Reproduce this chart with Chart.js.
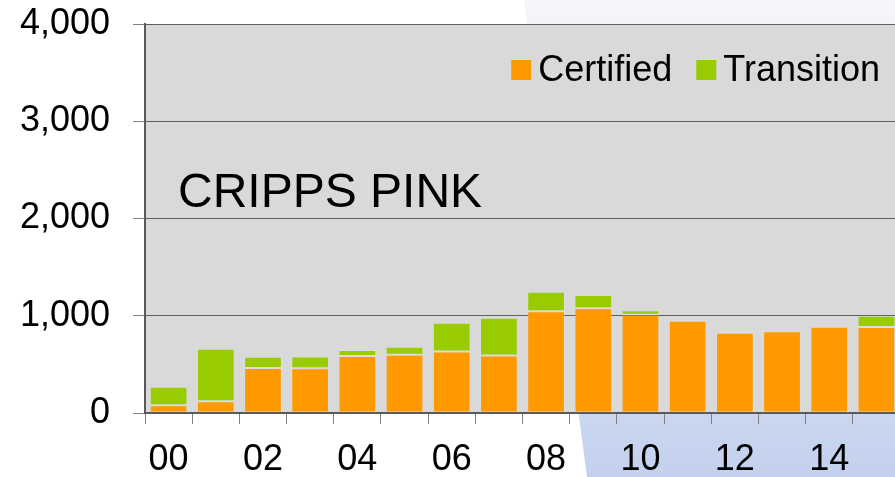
<!DOCTYPE html>
<html>
<head>
<meta charset="utf-8">
<script src="https://cdn.jsdelivr.net/npm/chart.js@4.4.0/dist/chart.umd.min.js"></script>
<style>
  html, body { margin: 0; padding: 0; width: 895px; height: 477px; overflow: hidden; background: #fff; }
  #bg {
    position: absolute; left: 0; top: 0; width: 895px; height: 477px;
    background: linear-gradient(to bottom, #f5f6fb 0%, #e3e9f6 45%, #c3d1ee 100%);
    clip-path: polygon(524px 0, 895px 0, 895px 477px, 587px 477px);
  }
  #wrap { position: absolute; left: 0; top: 0; width: 910px; height: 477px; }
</style>
</head>
<body>
<div id="bg"></div>
<div id="wrap"><canvas id="myChart"></canvas></div>
<script>
// data (hectares per year)
const years = ['00', '01', '02', '03', '04', '05', '06', '07', '08', '09', '10', '11', '12', '13', '14', '15'];
const certified = [80, 120, 463, 459, 586, 600, 633, 592, 1045, 1076, 1011, 949, 826, 840, 887, 884];
const transition = [190, 540, 116, 123, 62, 82, 296, 388, 202, 137, 45, 7, 10, 0, 11, 116];
const yTicks = [0, 1000, 2000, 3000, 4000];
const varietyName = 'CRIPPS PINK';

const FONT = "'Liberation Sans', Arial, sans-serif";

// grey plot area, label and legend drawn inside it
const plotDecor = {
    id: 'plotDecor',
    beforeDraw(chart) {
        const { ctx, chartArea: a } = chart;
        ctx.save();
        ctx.fillStyle = '#d9d9d9';
        ctx.fillRect(a.left, a.top, a.right - a.left, a.bottom - a.top);
        ctx.restore();
    },
    afterDraw(chart) {
        const { ctx, chartArea: a } = chart;
        ctx.save();
        ctx.fillStyle = '#000';
        ctx.textBaseline = 'alphabetic';
        ctx.font = '48px ' + FONT;
        ctx.fillText(varietyName, a.left + 33, a.top + 183);

        // legend, right aligned
        ctx.font = '36px ' + FONT;
        const items = chart.data.datasets.map(d => ({ label: d.label, color: d.backgroundColor }));
        const box = 20, gap = 7, itemGap = 24;
        let total = 0;
        items.forEach((it, i) => {
            it.w = box + gap + ctx.measureText(it.label).width;
            total += it.w + (i ? itemGap : 0);
        });
        let x = a.right - 20 - total;
        const cy = a.top + 46;
        items.forEach(it => {
            ctx.fillStyle = it.color;
            ctx.fillRect(x, cy - box / 2, box, box);
            ctx.fillStyle = '#000';
            ctx.textBaseline = 'middle';
            ctx.fillText(it.label, x + box + gap, cy + 1);
            x += it.w + itemGap;
        });
        ctx.restore();
    }
};

new Chart(document.querySelector('#myChart'), {
    type: 'bar',
    data: {
        labels: years,
        datasets: [
            {
                label: 'Certified',
                data: certified,
                backgroundColor: '#ff9900',
                borderColor: 'rgba(255,255,255,0.12)',
                borderWidth: 1,
                borderSkipped: false
            },
            {
                label: 'Transition',
                data: transition,
                backgroundColor: '#99cc00',
                borderColor: 'rgba(255,255,255,0.12)',
                borderWidth: 1,
                borderSkipped: false
            }
        ]
    },
    options: {
        responsive: true,
        maintainAspectRatio: false,
        animation: false,
        layout: { padding: { top: 24, right: 10, left: 0, bottom: 0 } },
        datasets: { bar: { categoryPercentage: 1, barPercentage: 0.8 } },
        plugins: {
            legend: { display: false },
            tooltip: { enabled: false }
        },
        scales: {
            x: {
                stacked: true,
                afterFit(scale) { scale.height = 64; scale.paddingLeft = 0; scale.paddingRight = 0; },
                border: { color: '#595959', width: 2 },
                grid: {
                    offset: true,
                    drawOnChartArea: false,
                    tickLength: 11,
                    tickColor: '#808080',
                    tickWidth: 1
                },
                ticks: {
                    autoSkip: false,
                    maxRotation: 0,
                    padding: 14,
                    color: '#000',
                    font: { family: FONT, size: 36 },
                    callback(v, i) { return i % 2 === 0 ? years[i] : ''; }
                }
            },
            y: {
                stacked: true,
                min: 0,
                max: 4000,
                afterFit(scale) { scale.width = 145; scale.paddingTop = 0; scale.paddingBottom = 0; },
                afterBuildTicks(scale) { scale.ticks = yTicks.map(v => ({ value: v })); },
                border: { color: '#595959', width: 2 },
                grid: {
                    color: '#5f5f5f',
                    lineWidth: 1,
                    tickLength: 12,
                    tickColor: '#808080'
                },
                ticks: {
                    padding: 23,
                    color: '#000',
                    font: { family: FONT, size: 36 },
                    callback(v) { return Number(v).toLocaleString('en-US'); }
                }
            }
        }
    },
    plugins: [plotDecor]
});
</script>
</body>
</html>
